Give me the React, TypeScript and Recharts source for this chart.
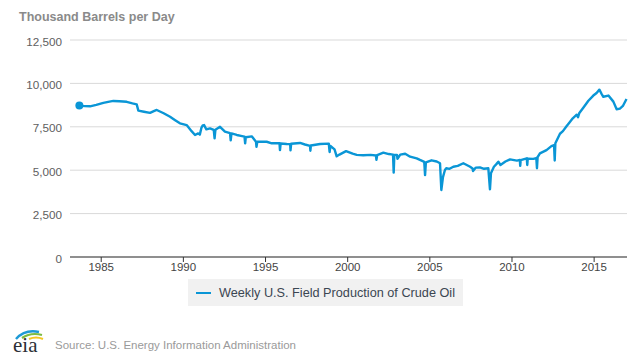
import { LineChart, Line, XAxis, YAxis, CartesianGrid, Legend } from 'recharts';

// decimal year of each reading
const years: number[] = [
  1983.67, 1984.0, 1984.32, 1984.7, 1985.13, 1985.5, 1985.74, 1986.1, 1986.55, 1986.9,
  1987.16, 1987.26, 1987.6, 1987.97, 1988.2, 1988.38, 1988.8, 1989.19, 1989.5, 1989.79,
  1990.2, 1990.5, 1990.71, 1990.9, 1991.0, 1991.1, 1991.18, 1991.26, 1991.4, 1991.62,
  1991.85, 1991.9, 1991.95, 1992.23, 1992.53, 1992.84, 1992.88, 1992.93, 1993.25, 1993.5,
  1993.72, 1993.76, 1993.8, 1994.16, 1994.42, 1994.45, 1994.5, 1995.07, 1995.38, 1995.85,
  1995.88, 1995.92, 1996.29, 1996.5, 1996.52, 1996.56, 1997.1, 1997.4, 1997.71, 1997.73,
  1997.76, 1998.32, 1998.85, 1998.9, 1998.95, 1999.2, 1999.33, 1999.5, 1999.9, 2000.3,
  2000.55, 2000.95, 2001.4, 2001.72, 2001.75, 2001.8, 2002.17, 2002.5, 2002.76, 2002.8,
  2002.84, 2003.0, 2003.03, 2003.2, 2003.5, 2003.8, 2004.2, 2004.4, 2004.66, 2004.71,
  2004.76, 2005.1, 2005.42, 2005.62, 2005.7, 2005.8, 2005.92, 2006.0, 2006.2, 2006.43,
  2006.7, 2007.04, 2007.45, 2007.6, 2007.63, 2007.8, 2008.05, 2008.3, 2008.56, 2008.66,
  2008.72, 2008.9, 2009.05, 2009.17, 2009.3, 2009.6, 2009.88, 2010.3, 2010.48, 2010.5,
  2010.53, 2010.9, 2010.93, 2010.96, 2011.3, 2011.48, 2011.52, 2011.56, 2011.7, 2012.1,
  2012.4, 2012.56, 2012.6, 2012.64, 2012.92, 2013.1, 2013.33, 2013.5, 2013.7, 2013.94,
  2014.02, 2014.1, 2014.34, 2014.65, 2014.95, 2015.15, 2015.32, 2015.45, 2015.56, 2015.87,
  2016.17, 2016.37, 2016.57, 2016.75, 2016.97,
];

// Weekly U.S. Field Production of Crude Oil, thousand barrels per day
const production: number[] = [
  8720, 8690, 8680, 8760, 8880, 8950, 8990, 8970, 8940, 8850,
  8790, 8430, 8370, 8300, 8400, 8470, 8280, 8080, 7880, 7700,
  7600, 7250, 7030, 7120, 7050, 7450, 7580, 7600, 7350, 7410,
  7320, 6835, 7330, 7500, 7220, 7130, 6720, 7120, 7030, 6980,
  6930, 6550, 6900, 6950, 6640, 6350, 6640, 6640, 6550, 6560,
  6160, 6540, 6510, 6500, 6140, 6520, 6570, 6480, 6400, 6120,
  6420, 6510, 6530, 6050, 6400, 6200, 5800, 5900, 6100, 5950,
  5880, 5860, 5880, 5850, 5600, 5870, 6010, 5930, 5900, 4860,
  5880, 5880, 5650, 5900, 5950, 5780, 5680, 5590, 5480, 4720,
  5450, 5570, 5500, 5400, 3860, 4600, 5010, 5110, 5080, 5200,
  5250, 5400, 5200, 5100, 4950, 5150, 5165, 5080, 5110, 3900,
  4820, 5200, 5350, 5490, 5300, 5500, 5620, 5550, 5590, 5250,
  5580, 5685, 5300, 5660, 5650, 5700, 5110, 5750, 5970, 6160,
  6390, 6450, 5560, 6550, 7100, 7250, 7550, 7750, 7990, 8200,
  8050, 8300, 8600, 9000, 9300, 9450, 9640, 9400, 9230, 9300,
  8950, 8510, 8550, 8700, 9100,
];

const xTicks = [1985, 1990, 1995, 2000, 2005, 2010, 2015];
const yTicks = [0, 2500, 5000, 7500, 10000, 12500];

const data = years.map((year, i) => ({ year, value: production[i] }));

const BLUE = '#0a96d6';
const FONT = '"Liberation Sans", Arial, sans-serif';

const FirstDot = (props: any) => {
  const { cx, cy, index } = props;
  if (index !== 0) return <g key={`d${index}`} />;
  return <circle key="d0" cx={cx} cy={cy} r={4} fill={BLUE} />;
};

const LegendBox = () => (
  <div
    style={{
      width: 275,
      height: 27,
      background: '#f1f1f1',
      display: 'flex',
      alignItems: 'center',
      fontFamily: FONT,
      fontSize: 12.7,
      color: '#3b4652',
      boxSizing: 'border-box',
      paddingLeft: 8,
    }}
  >
    <span style={{ display: 'inline-block', width: 15, height: 2, background: BLUE }} />
    <span style={{ marginLeft: 8, whiteSpace: 'nowrap' }}>Weekly U.S. Field Production of Crude Oil</span>
  </div>
);

export default function App() {
  return (
    <div style={{ position: 'absolute', left: 0, top: 0, width: 640, height: 358, background: '#fff' }}>
      <LineChart width={640} height={358} data={data} margin={{ top: 40, right: 13, left: 0, bottom: 71 }}>
        <CartesianGrid vertical={false} stroke="#d9d9d9" />
        <XAxis
          dataKey="year"
          type="number"
          domain={[1983.1, 2017.0]}
          ticks={xTicks}
          height={30}
          tickSize={5}
          tickMargin={1}
          stroke="#333"
          tick={{ fontFamily: FONT, fontSize: 11.5, fill: '#444' }}
        />
        <YAxis
          domain={[0, 12500]}
          ticks={yTicks}
          width={70}
          axisLine={false}
          tickLine={false}
          tickFormatter={(v: number) => v.toLocaleString('en-US')}
          tick={{ fontFamily: FONT, fontSize: 11.7, fill: '#606060', dy: 1.5 }}
        />
        <Legend
          layout="horizontal"
          verticalAlign="middle"
          align="center"
          content={() => <LegendBox />}
          wrapperStyle={{ left: 188, top: 279, width: 275, height: 27 }}
        />
        <Line
          type="linear"
          dataKey="value"
          name="Weekly U.S. Field Production of Crude Oil"
          stroke={BLUE}
          strokeWidth={2.4}
          strokeLinejoin="round"
          dot={FirstDot}
          activeDot={false}
          isAnimationActive={false}
        />
      </LineChart>
      <svg width={640} height={358} style={{ position: 'absolute', left: 0, top: 0, pointerEvents: 'none' }}>
        <text x={19} y={20.7} fontFamily={FONT} fontWeight="bold" fontSize={12.5} fill="#8a8a8a">
          Thousand Barrels per Day
        </text>
        <path d="M16,339 Q25,329 39,332" fill="none" stroke="#1e9ad6" strokeWidth={2.5} />
        <path d="M22,338 Q31,332 42,335" fill="none" stroke="#7dbb42" strokeWidth={2.2} />
        <path d="M29,339 Q36,336 43,339" fill="none" stroke="#f3c623" strokeWidth={2} />
        <text x={13} y={352} fontFamily='"Liberation Serif", "DejaVu Serif", serif' fontSize={21} fill="#2c2f36">
          eia
        </text>
        <text x={55} y={349} fontFamily={FONT} fontSize={11.5} fill="#9a9a9a">
          Source: U.S. Energy Information Administration
        </text>
      </svg>
    </div>
  );
}
